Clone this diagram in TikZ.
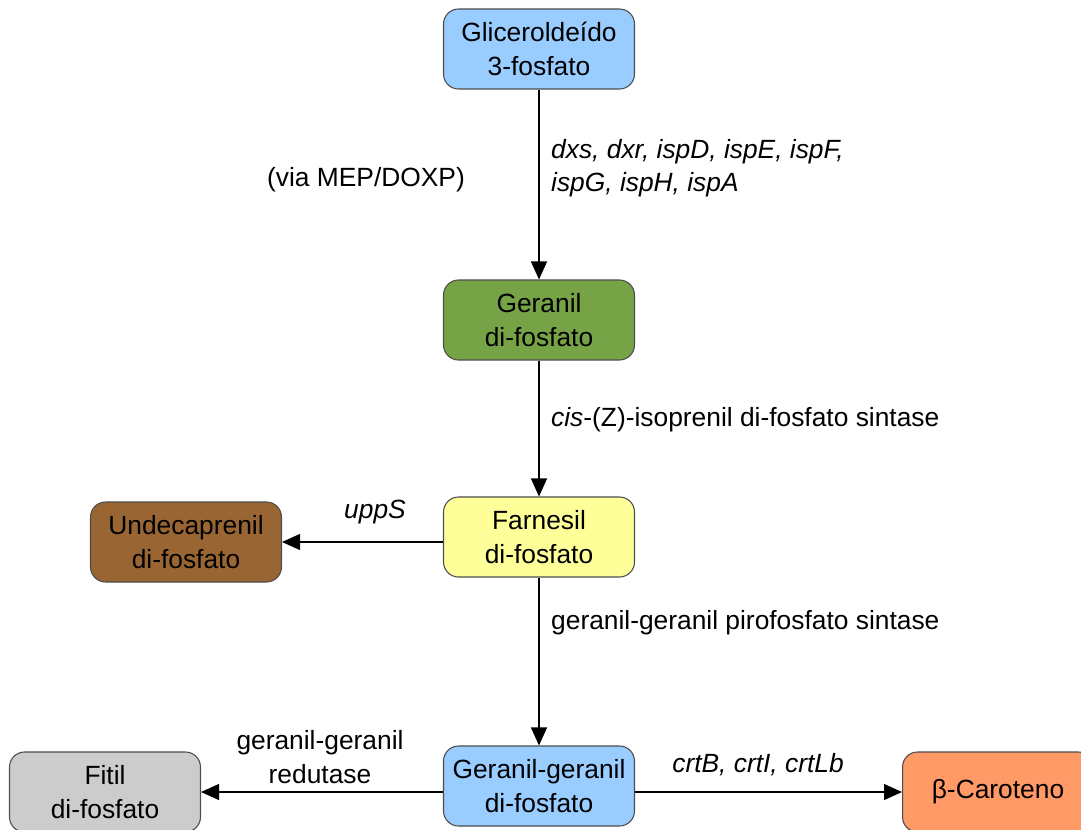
\documentclass[tikz,border=0pt]{standalone}
\usepackage{fontspec}
\setmainfont{Liberation Sans}
\usetikzlibrary{arrows.meta}
\definecolor{azul}{HTML}{99CCFF}
\definecolor{verde}{HTML}{77A347}
\definecolor{amarelo}{HTML}{FFFF99}
\definecolor{marrom}{HTML}{996633}
\definecolor{cinza}{HTML}{CCCCCC}
\definecolor{laranja}{HTML}{FF9966}
\begin{document}
\begin{tikzpicture}[x=0.02cm,y=-0.02cm,
    font=\fontsize{15}{19}\selectfont,
    caixa/.style={draw=black!70,line width=0.6pt,rounded corners=0.3cm,
        minimum width=3.82cm,minimum height=1.6cm,align=center,inner sep=2pt},
    seta/.style={line width=0.6pt,-{Triangle[length=0.36cm,width=0.32cm]}}]
    \clip (0,0) rectangle (1081,829);

    \node[caixa,fill=azul] (glic) at (539,49) {Gliceroldeído\\3-fosfato};
    \node[caixa,fill=verde] (geranil) at (539,320) {Geranil\\di-fosfato};
    \node[caixa,fill=amarelo] (farnesil) at (539,537) {Farnesil\\di-fosfato};
    \node[caixa,fill=marrom] (undec) at (186,542) {Undecaprenil\\di-fosfato};
    \node[caixa,fill=azul] (gg) at (539,786) {Geranil-geranil\\di-fosfato};
    \node[caixa,fill=cinza] (fitil) at (105,792) {Fitil\\di-fosfato};
    \node[caixa,fill=laranja] (caroteno) at (998,792) {β-Caroteno};

    \draw[seta] (glic) -- (geranil);
    \draw[seta] (geranil) -- (farnesil);
    \draw[seta] (farnesil) -- (gg);
    \draw[seta] (farnesil.west |- undec.east) -- (undec.east);
    \draw[seta] (gg.west |- fitil.east) -- (fitil.east);
    \draw[seta] (gg.east |- caroteno.west) -- (caroteno.west);

    \node[anchor=west,align=left] (enz1) at (545,168) {\textit{dxs, dxr, ispD, ispE, ispF,}\\\textit{ispG, ispH, ispA}};
    \node (via) at (366,180) {(via MEP/DOXP)};
    \node[anchor=west] (enz2) at (545,420) {\textit{cis}-(Z)-isoprenil di-fosfato sintase};
    \node[anchor=west] (enz3) at (545,623) {geranil-geranil pirofosfato sintase};
    \node (enz4) at (375,512) {\textit{uppS}};
    \node[align=center] (enz5) at (320,757) {geranil-geranil\\redutase};
    \node (enz6) at (758,765) {\textit{crtB, crtI, crtLb}};
\end{tikzpicture}
\end{document}
